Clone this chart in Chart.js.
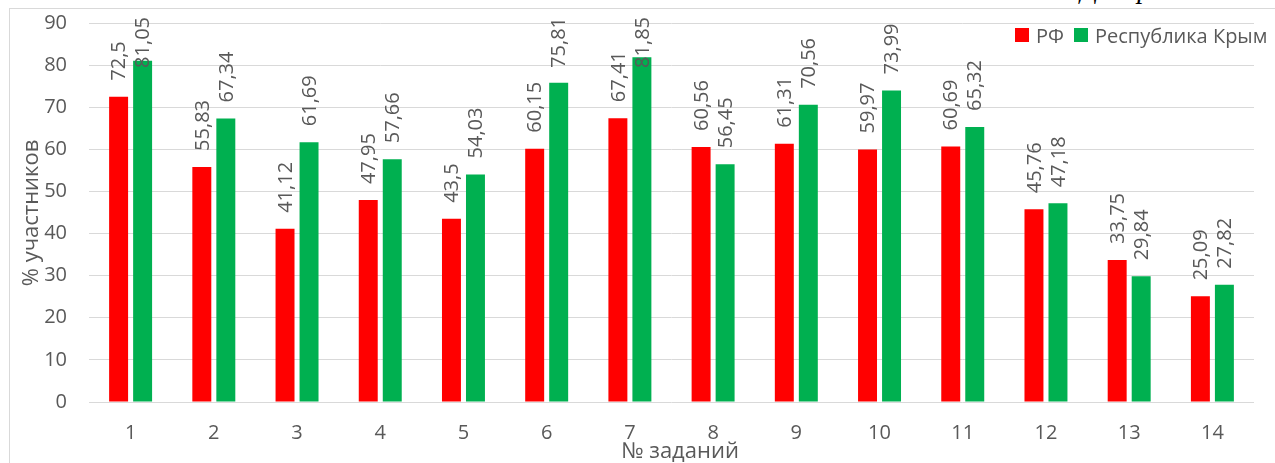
<!DOCTYPE html>
<html>
<head>
<meta charset="utf-8">
<script src="https://cdn.jsdelivr.net/npm/chart.js@4.4.1/dist/chart.umd.min.js"></script>
<style>
  html, body { margin: 0; padding: 0; background: #fff; overflow: hidden; }
  #wrap { position: relative; width: 1275px; height: 463px; }
  #frame { position: absolute; left: 9px; top: 8px; width: 1400px; height: 600px;
           border-left: 1px solid #d9d9d9; border-top: 1px solid #d9d9d9; }
  #caption { position: absolute; right: 25px; top: -25px; font: italic 28px "Liberation Serif", serif;
             line-height: 28px; color: #000; white-space: nowrap; }
  #chart { position: absolute; left: 0; top: 0; }
  #legend { position: absolute; top: 23px; left: 1015px; height: 24px; display: flex; align-items: center;
            font: 20px "Open Sans", sans-serif; color: #595959; white-space: nowrap; }
  #legend .box { width: 14px; height: 14px; display: inline-block; margin-right: 7px; }
  #legend .item { display: flex; align-items: center; margin-right: 10px; }
</style>
</head>
<body>
<div id="wrap">
  <div id="frame"></div>
  <div id="caption">Диаграмма 15</div>
  <canvas id="chart" width="1275" height="463"></canvas>
  <div id="legend"></div>
</div>
<script>
  const tasks = ["1", "2", "3", "4", "5", "6", "7", "8", "9", "10", "11", "12", "13", "14"]
  const rfValues = [72.5, 55.83, 41.12, 47.95, 43.5, 60.15, 67.41, 60.56, 61.31, 59.97, 60.69, 45.76, 33.75, 25.09]
  const crimeaValues = [81.05, 67.34, 61.69, 57.66, 54.03, 75.81, 81.85, 56.45, 70.56, 73.99, 65.32, 47.18, 29.84, 27.82]
  const seriesNames = ["РФ", "Республика Крым"]
  const seriesColors = ["#ff0000", "#00b050"]

  const textColor = "#595959"
  const fontFamily = "'Open Sans', sans-serif"

  // rotated value labels above bars, kept inside chart top
  const barLabels = {
    id: "barLabels",
    afterDatasetsDraw(chart) {
      const ctx = chart.ctx
      ctx.save()
      ctx.font = "20px " + fontFamily
      ctx.fillStyle = textColor
      ctx.textAlign = "left"
      ctx.textBaseline = "middle"
      chart.data.datasets.forEach((ds, i) => {
        chart.getDatasetMeta(i).data.forEach((bar, j) => {
          const txt = String(ds.data[j]).replace(".", ",")
          const w = ctx.measureText(txt).width
          let start = bar.y - 16
          if (start - w < 17) start = 17 + w
          ctx.save()
          ctx.translate(bar.x + 1, start)
          ctx.rotate(-Math.PI / 2)
          ctx.fillText(txt, 0, 0)
          ctx.restore()
        })
      })
      ctx.restore()
    },
  }

  // axis titles
  const axisTitles = {
    id: "axisTitles",
    afterDraw(chart) {
      const ctx = chart.ctx
      ctx.save()
      ctx.font = "22px " + fontFamily
      ctx.fillStyle = textColor
      ctx.textAlign = "center"
      ctx.textBaseline = "middle"
      ctx.fillText("№ заданий", 680, 452)
      ctx.translate(32, 213)
      ctx.rotate(-Math.PI / 2)
      ctx.fillText("% участников", 0, 0)
      ctx.restore()
    },
  }

  new Chart(document.getElementById("chart"), {
    type: "bar",
    data: {
      labels: tasks,
      datasets: [
        { label: seriesNames[0], data: rfValues, backgroundColor: seriesColors[0], borderWidth: 0 },
        { label: seriesNames[1], data: crimeaValues, backgroundColor: seriesColors[1], borderWidth: 0 },
      ],
    },
    options: {
      responsive: false,
      animation: false,
      devicePixelRatio: 1,
      categoryPercentage: 0.577,
      barPercentage: 0.79,
      layout: { padding: { top: 23, right: 21, left: 0, bottom: 0 } },
      scales: {
        x: {
          grid: { display: false },
          border: { display: false },
          ticks: { color: textColor, font: { size: 20, family: fontFamily }, padding: 11, maxRotation: 0 },
          afterFit: (s) => { s.height = 61; s.paddingLeft = 0; s.paddingRight = 0 },
        },
        y: {
          min: 0,
          max: 90,
          grid: { color: "#d9d9d9", drawTicks: false },
          border: { display: false },
          ticks: { stepSize: 10, color: textColor, font: { size: 20, family: fontFamily }, padding: 22 },
          afterFit: (s) => { s.width = 89; s.paddingTop = 0; s.paddingBottom = 0 },
        },
      },
      plugins: {
        legend: { display: false },
        tooltip: { enabled: false },
      },
    },
    plugins: [barLabels, axisTitles],
  })

  const legend = document.getElementById("legend")
  seriesNames.forEach((name, i) => {
    const item = document.createElement("span")
    item.className = "item"
    const box = document.createElement("span")
    box.className = "box"
    box.style.background = seriesColors[i]
    item.appendChild(box)
    item.appendChild(document.createTextNode(name))
    legend.appendChild(item)
  })
</script>
</body>
</html>
